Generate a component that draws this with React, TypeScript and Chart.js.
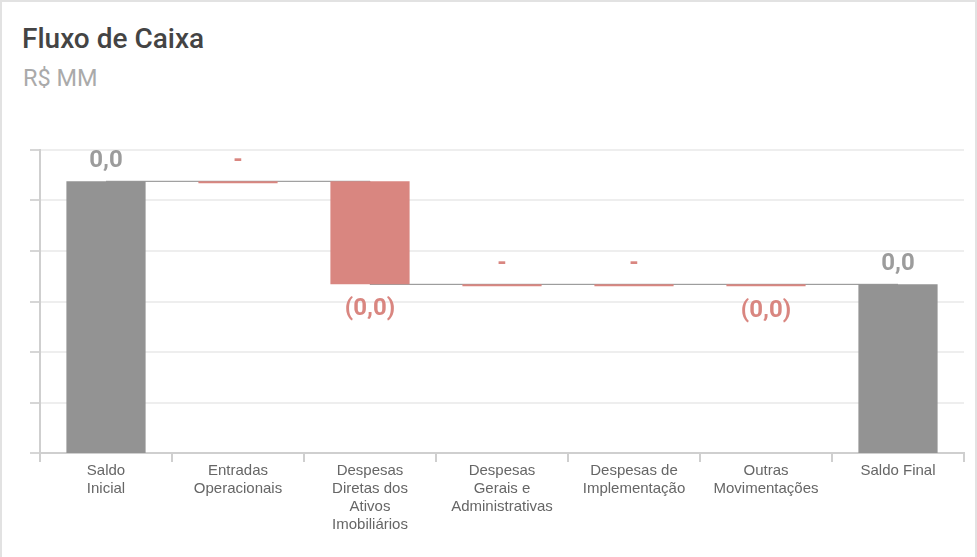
import { useEffect, useRef } from 'react';
import { Chart, registerables } from 'chart.js';

Chart.register(...registerables);

const categories: string[][] = [
  ['Saldo', 'Inicial'],
  ['Entradas', 'Operacionais'],
  ['Despesas', 'Diretas dos', 'Ativos', 'Imobiliários'],
  ['Despesas', 'Gerais e', 'Administrativas'],
  ['Despesas de', 'Implementação'],
  ['Outras', 'Movimentações'],
  ['Saldo Final'],
];
const kinds = ['total', 'delta', 'delta', 'delta', 'delta', 'delta', 'total'];
// R$ MM
const values = [0.0269, 0, -0.0102, 0, 0, -0.00002, 0.0167];
const yMin = 0;
const yMax = 0.03;
const yStep = 0.005;

const TOTAL_COLOR = '#939393';
const NEG_COLOR = '#d98680';

const r4 = (v: number) => Math.round(v * 10000) / 10000;

function buildLevels() {
  const bars: [number, number][] = [];
  const ends: number[] = [];
  let level = 0;
  values.forEach((v, i) => {
    if (kinds[i] === 'total') {
      level = r4(v);
      bars.push([0, level]);
    } else {
      const start = level;
      level = r4(level + v);
      bars.push([start, level]);
    }
    ends.push(level);
  });
  return { bars, ends };
}

function fmt(v: number) {
  if (v === 0) return '-';
  const s = Math.abs(v).toFixed(1).replace('.', ',');
  return v < 0 ? `(${s})` : s;
}

const valueLabels = {
  id: 'valueLabels',
  afterDatasetsDraw(chart: any) {
    const meta = chart.getDatasetMeta(0);
    const ctx = chart.ctx;
    ctx.save();
    ctx.font = 'bold 24px Roboto';
    ctx.textAlign = 'center';
    ctx.textBaseline = 'alphabetic';
    meta.data.forEach((el: any, i: number) => {
      const v = values[i];
      const { x, y, base } = el.getProps(['x', 'y', 'base'], true);
      const top = Math.min(y, base);
      const bottom = Math.max(y, base);
      ctx.fillStyle = kinds[i] === 'total' ? '#9c9c9c' : NEG_COLOR;
      const text = fmt(v);
      if (kinds[i] !== 'total' && v < 0) {
        ctx.fillText(text, x, bottom + 31);
      } else {
        ctx.fillText(text, x, top - 14);
      }
    });
    ctx.restore();
  },
};

export default function App() {
  const canvasRef = useRef<HTMLCanvasElement | null>(null);

  useEffect(() => {
    if (!canvasRef.current) return;
    const { bars, ends } = buildLevels();
    const chart = new Chart(canvasRef.current, {
      type: 'bar',
      data: {
        labels: categories,
        datasets: [
          {
            type: 'bar',
            data: bars as any,
            backgroundColor: values.map((_, i) => (kinds[i] === 'total' ? TOTAL_COLOR : NEG_COLOR)),
            barPercentage: 0.6,
            categoryPercentage: 1,
            minBarLength: 2,
            base: 1,
            order: 0,
          } as any,
          {
            type: 'line',
            data: ends,
            borderColor: '#8a8a8a',
            borderWidth: 1,
            pointRadius: 0,
            stepped: 'before',
            fill: false,
            order: 1,
          } as any,
        ],
      },
      options: {
        animation: false,
        responsive: true,
        maintainAspectRatio: false,
        layout: { padding: { left: 30, right: 13, top: 40, bottom: 23 } },
        plugins: {
          legend: { display: false },
          tooltip: { enabled: false },
          title: { display: false },
        },
        scales: {
          x: {
            grid: {
              display: true,
              drawOnChartArea: false,
              drawTicks: true,
              tickLength: 9,
              tickColor: '#cfcfcf',
              lineWidth: 2,
              offset: true,
            },
            border: { display: true, color: '#cfcfcf', width: 2 },
            ticks: {
              color: '#666666',
              font: { family: '"Liberation Sans", Arial, sans-serif', size: 15 },
              maxRotation: 0,
              minRotation: 0,
              autoSkip: false,
              padding: 0,
            },
          },
          y: {
            min: yMin,
            max: yMax,
            ticks: { display: false, stepSize: yStep },
            grid: {
              color: '#eeeeee',
              lineWidth: 2,
              tickLength: 10,
              tickColor: '#d6d6d6',
              drawTicks: true,
            },
            border: { display: true, color: '#cfcfcf', width: 2 },
          },
        },
      },
      plugins: [valueLabels],
    });
    return () => chart.destroy();
  }, []);

  return (
    <div style={{ position: 'fixed', left: 0, top: 0, width: 977, height: 557, overflow: 'hidden', background: '#fff' }}>
      <div
        style={{
          position: 'absolute',
          left: 0,
          top: 0,
          width: 977,
          height: 600,
          boxSizing: 'border-box',
          border: '2px solid #e2e2e2',
        }}
      />
      <div
        style={{
          position: 'absolute',
          left: 22,
          top: 25,
          fontFamily: 'Roboto, sans-serif',
          fontWeight: 500,
          fontSize: 28,
          lineHeight: '28px',
          color: '#444444',
          whiteSpace: 'nowrap',
        }}
      >
        Fluxo de Caixa
      </div>
      <div
        style={{
          position: 'absolute',
          left: 23,
          top: 66,
          fontFamily: 'Roboto, sans-serif',
          fontWeight: 400,
          fontSize: 23.5,
          lineHeight: '24px',
          color: '#aaaaaa',
          whiteSpace: 'nowrap',
        }}
      >
        R$ MM
      </div>
      <div style={{ position: 'absolute', left: 0, top: 110, width: 977, height: 447 }}>
        <canvas ref={canvasRef} />
      </div>
    </div>
  );
}
